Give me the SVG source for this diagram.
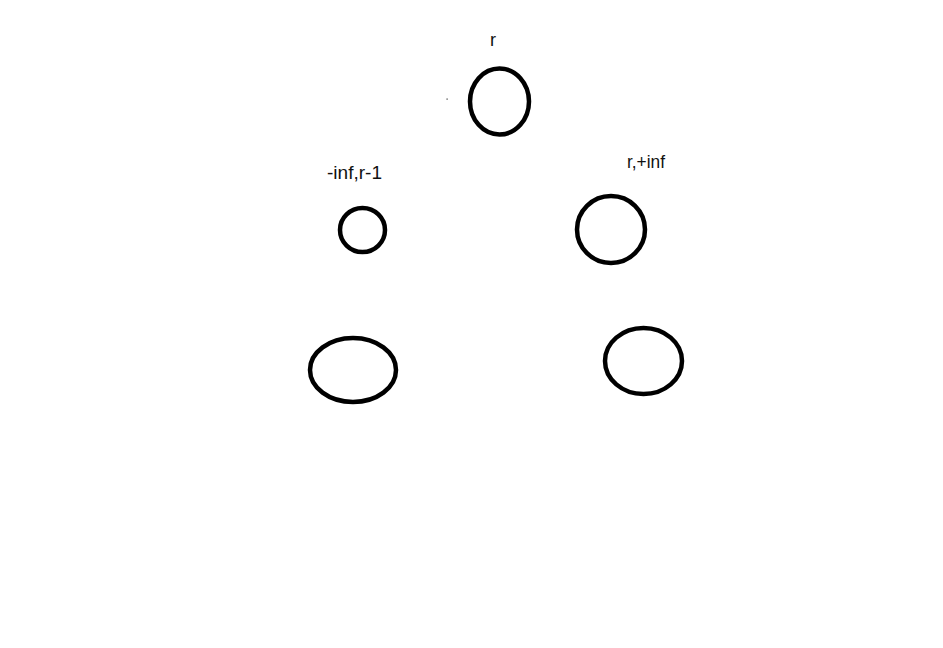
<svg xmlns="http://www.w3.org/2000/svg" width="943" height="648" viewBox="0 0 943 648">
<style>
.n{fill:none;stroke:#000;stroke-width:4.5}
.t{font-family:"Liberation Sans",Arial,sans-serif;font-size:18px;fill:#111}
</style>
<rect width="943" height="648" fill="#fff"/>
<g id="connectors"></g>
<g id="node-root">
<ellipse class="n" cx="499.5" cy="101.5" rx="29.5" ry="33"/>
<text class="t" x="490" y="46" font-size="17">r</text>
</g>
<g id="node-left">
<ellipse class="n" cx="362.5" cy="230" rx="22.5" ry="22"/>
<text class="t" x="327" y="179" textLength="55" lengthAdjust="spacingAndGlyphs">-inf,r-1</text>
</g>
<g id="node-right">
<ellipse class="n" cx="611" cy="229.5" rx="34" ry="33.5"/>
<text class="t" x="627" y="168" textLength="38" lengthAdjust="spacingAndGlyphs">r,+inf</text>
</g>
<g id="node-bottom-left">
<ellipse class="n" cx="353" cy="370" rx="43" ry="32"/>
</g>
<g id="node-bottom-right">
<ellipse class="n" cx="643.5" cy="361" rx="38.5" ry="33"/>
</g>
<rect x="446.5" y="98.5" width="1.2" height="1.2" fill="#333"/>
</svg>
